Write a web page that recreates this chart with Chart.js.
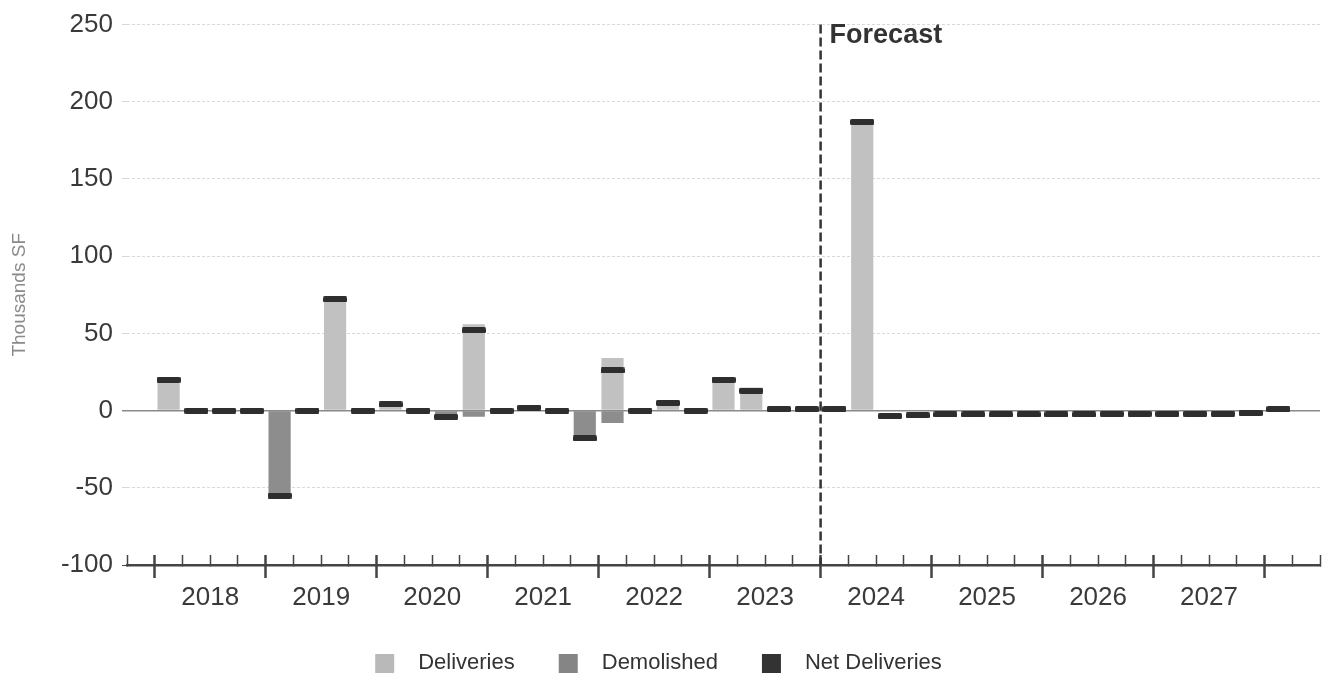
<!DOCTYPE html>
<html>
<head>
<meta charset="utf-8">
<script src="https://cdn.jsdelivr.net/npm/chart.js@4/dist/chart.umd.min.js"></script>
<style>
  html, body { margin: 0; padding: 0; background: #fff; overflow: hidden; }
  canvas { display: block; }
</style>
</head>
<body>
<canvas id="chart" width="1331" height="682"></canvas>
<script>
// Quarterly categories: one empty quarter before 2018 and one after the first quarter of 2028.
const quarters = [
  '2017 Q4',
  '2018 Q1', '2018 Q2', '2018 Q3', '2018 Q4',
  '2019 Q1', '2019 Q2', '2019 Q3', '2019 Q4',
  '2020 Q1', '2020 Q2', '2020 Q3', '2020 Q4',
  '2021 Q1', '2021 Q2', '2021 Q3', '2021 Q4',
  '2022 Q1', '2022 Q2', '2022 Q3', '2022 Q4',
  '2023 Q1', '2023 Q2', '2023 Q3', '2023 Q4',
  '2024 Q1', '2024 Q2', '2024 Q3', '2024 Q4',
  '2025 Q1', '2025 Q2', '2025 Q3', '2025 Q4',
  '2026 Q1', '2026 Q2', '2026 Q3', '2026 Q4',
  '2027 Q1', '2027 Q2', '2027 Q3', '2027 Q4',
  '2028 Q1', '2028 Q2'
];

const yearLabels = ['2018', '2019', '2020', '2021', '2022', '2023', '2024', '2025', '2026', '2027'];

// Thousands of square feet per quarter
const deliveries = [
  null,
  21, null, null, null,
  null, null, 73, null,
  4, null, null, 56,
  null, 2, null, null,
  34, null, 5, null,
  21, 15, null, null,
  null, 188, null, null,
  null, null, null, null,
  null, null, null, null,
  null, null, null, null,
  2, null
];

const demolished = [
  null,
  null, null, null, null,
  -56, null, null, null,
  null, null, -4, -4,
  null, null, null, -18,
  -8, null, null, null,
  null, null, null, null,
  null, null, null, null,
  null, null, null, null,
  null, null, null, null,
  null, null, null, null,
  null, null
];

const netDeliveries = [
  null,
  20, 0, 0, 0,
  -55, 0, 72, 0,
  4, 0, -4, 52,
  0, 2, 0, -18,
  26, 0, 5, 0,
  20, 13, 1, 1,
  1, 187, -3.5, -3,
  -2.5, -2.5, -2.5, -2.5,
  -2.5, -2.5, -2, -2,
  -2, -2, -2, -1.5,
  1, null
];

const seriesNames = ['Deliveries', 'Demolished', 'Net Deliveries'];
const forecastStart = '2024 Q1';
const forecastText = 'Forecast';
const yAxisTitle = 'Thousands SF';
const yRange = [-100, 250];
const yStep = 50;

// ---- styling ----
const FONT = "'Liberation Sans', Arial, Helvetica, sans-serif";
const COL_DELIV = '#c1c1c1';
const COL_DEMO = '#8d8d8d';
const COL_NET = '#2e2e2e';
const COL_TEXT = '#3a3a3a';
const COL_AXIS = '#444444';

Chart.defaults.font.family = FONT;

// Flat dash used to mark the net value of each quarter
function makeNetMarker() {
  const c = document.createElement('canvas');
  c.width = 24; c.height = 6;
  const g = c.getContext('2d');
  g.fillStyle = COL_NET;
  g.beginPath();
  g.roundRect(0, 0, 24, 6, 1.5);
  g.fill();
  return c;
}

// Legend swatch: a square inset inside a wider transparent box
const SWATCH_BOX = 39;
function makeSwatch(color) {
  const c = document.createElement('canvas');
  c.width = SWATCH_BOX; c.height = 19;
  const g = c.getContext('2d');
  g.fillStyle = color;
  g.fillRect(7, 0, 19, 19);
  return c;
}

const netMarker = makeNetMarker();
const swatches = [makeSwatch('#b9b9b9'), makeSwatch('#858585'), makeSwatch('#333333')];

// Year axis: boundaries between years carry tick marks, year centres carry labels
const yearBoundaries = [];
const yearCentres = [];
for (let k = 0; k <= yearLabels.length; k++) yearBoundaries.push(0.5 + 4 * k);
for (let k = 0; k < yearLabels.length; k++) yearCentres.push(2.5 + 4 * k);
const yearTickValues = yearBoundaries.concat(yearCentres).sort((a, b) => a - b);
const isBoundary = v => yearBoundaries.includes(v);

const forecastPlugin = {
  id: 'forecastDivider',
  afterDatasetsDraw(chart) {
    const scale = chart.scales.years;
    const area = chart.chartArea;
    const g = chart.ctx;
    const x = scale.getPixelForValue(quarters.indexOf(forecastStart) - 0.5);
    g.save();
    g.strokeStyle = '#333';
    g.lineWidth = 2.5;
    g.setLineDash([9, 4]);
    g.beginPath();
    g.moveTo(x, area.top);
    g.lineTo(x, area.bottom);
    g.stroke();
    g.setLineDash([]);
    g.fillStyle = '#333';
    g.font = 'bold 27px ' + FONT;
    g.textBaseline = 'middle';
    g.textAlign = 'left';
    g.fillText(forecastText, x + 9, area.top + 11);
    g.restore();
  }
};

new Chart(document.getElementById('chart'), {
  type: 'bar',
  data: {
    labels: quarters,
    datasets: [
      {
        type: 'bar', label: seriesNames[0], data: deliveries,
        backgroundColor: COL_DELIV, grouped: false,
        barPercentage: 0.8, categoryPercentage: 1, order: 2
      },
      {
        type: 'bar', label: seriesNames[1], data: demolished,
        backgroundColor: COL_DEMO, grouped: false,
        barPercentage: 0.8, categoryPercentage: 1, order: 1
      },
      {
        type: 'line', label: seriesNames[2], data: netDeliveries,
        showLine: false, pointStyle: netMarker, pointRadius: 4,
        backgroundColor: COL_NET, borderColor: COL_NET, order: 0
      }
    ]
  },
  options: {
    responsive: false,
    devicePixelRatio: 1,
    animation: false,
    events: [],
    layout: { padding: { top: 19, right: 11, bottom: -2, left: -10 } },
    scales: {
      x: {
        type: 'category',
        position: 'bottom',
        weight: 0,
        offset: true,
        grid: {
          offset: true,
          drawOnChartArea: false,
          drawTicks: true,
          tickLength: -10,
          tickWidth: c => (c.tick && quarters[c.index] && quarters[c.index].endsWith('Q1')) ? 2.5 : 1.5,
          tickColor: COL_AXIS
        },
        border: { display: true, color: COL_AXIS, width: 2.5 },
        ticks: { display: false, autoSkip: false },
        afterFit: s => { s.height = 0; }
      },
      years: {
        type: 'linear',
        position: 'bottom',
        weight: 1,
        offset: false,
        min: -0.5,
        max: quarters.length - 0.5,
        afterBuildTicks: s => { s.ticks = yearTickValues.map(v => ({ value: v })); },
        grid: {
          offset: false,
          drawOnChartArea: false,
          drawTicks: true,
          tickLength: 13,
          tickWidth: 2.5,
          tickColor: c => (c.tick && isBoundary(c.tick.value)) ? COL_AXIS : 'rgba(0,0,0,0)'
        },
        border: { display: false },
        ticks: {
          autoSkip: false,
          maxRotation: 0,
          padding: 4,
          color: COL_TEXT,
          font: { size: 26 },
          callback: v => {
            const k = yearCentres.indexOf(v);
            return k >= 0 ? yearLabels[k] : '';
          }
        },
        afterFit: s => { s.height = 50; }
      },
      y: {
        min: yRange[0],
        max: yRange[1],
        ticks: { stepSize: yStep, padding: 9, color: COL_TEXT, font: { size: 26 } },
        grid: {
          drawTicks: true,
          tickLength: 5,
          color: c => c.tick.value === 0 ? '#8a8a8a' : (c.tick.value === yRange[0] ? COL_AXIS : '#d9d9d9'),
          tickColor: c => c.tick.value === 0 ? '#8a8a8a' : (c.tick.value === yRange[0] ? COL_AXIS : '#d9d9d9'),
          lineWidth: c => c.tick.value === 0 ? 1.5 : 1
        },
        border: {
          display: false,
          dash: c => (c.tick && c.tick.value !== 0 && c.tick.value !== yRange[0]) ? [3, 2] : []
        },
        title: {
          display: true,
          text: yAxisTitle,
          color: '#8a8a8a',
          font: { size: 19 },
          padding: { top: 18, bottom: 0 }
        },
        afterFit: s => { s.width = 137; }
      }
    },
    plugins: {
      tooltip: { enabled: false },
      legend: {
        position: 'bottom',
        labels: {
          usePointStyle: true,
          pointStyleWidth: SWATCH_BOX,
          boxHeight: 19,
          padding: 37,
          color: '#333',
          font: { size: 22 },
          generateLabels: chart => Chart.defaults.plugins.legend.labels.generateLabels(chart)
            .sort((a, b) => a.datasetIndex - b.datasetIndex)
            .map(item => Object.assign({}, item, { pointStyle: swatches[item.datasetIndex] }))
        }
      }
    }
  },
  plugins: [forecastPlugin]
});
</script>
</body>
</html>
